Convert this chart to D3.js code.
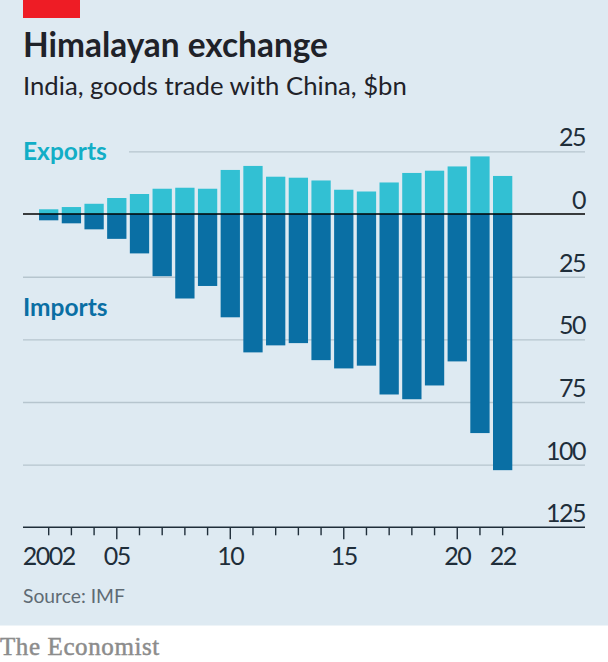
<!DOCTYPE html>
<html>
<head>
<meta charset="utf-8">
<script src="https://d3js.org/d3.v7.min.js"></script>
<style>
  html, body { margin: 0; padding: 0; background: #fff; }
  svg { display: block; }
  text { font-family: "Lato", sans-serif; }
</style>
</head>
<body>
<div class="chart"></div>
<script>
const years = d3.range(2002, 2023);
const exportsBn = [1.9, 2.8, 4.1, 6.4, 8, 10.1, 10.5, 10.1, 17.6, 19.2, 14.9, 14.5, 13.4, 9.7, 9, 12.6, 16.4, 17.3, 19, 23, 15.2];
const importsBn = [2.5, 3.7, 6.1, 9.9, 15.7, 24.8, 33.7, 28.7, 41.2, 55.2, 52.4, 51.5, 58.3, 61.6, 60.5, 72, 73.9, 68.4, 58.8, 87.4, 102.2];
const yTicks = [25, 0, -25, -50, -75, -100, -125];
const majorYears = [2005, 2010, 2015, 2020];
const xLabels = {2002: "2002", 2005: "05", 2010: "10", 2015: "15", 2020: "20", 2022: "22"};

const width = 608, height = 662;
const left = 23, right = 585;

const svg = d3.select(".chart").append("svg")
    .attr("width", width)
    .attr("height", height);

// panel, everything below it is the white strip with the logo
svg.append("rect")
    .attr("width", width)
    .attr("height", 625.5)
    .attr("fill", "#deeaf2");

svg.append("rect")
    .attr("x", left)
    .attr("width", 57)
    .attr("height", 18)
    .attr("fill", "#ee1c25");

const xScale = d3.scaleBand()
    .domain(years)
    .range([37.35, 514])
    .paddingInner(0.15)
    .paddingOuter(0.075);

const yScale = d3.scaleLinear()
    .domain([25, -125])
    .range([151.4, 527.3]);

// gridlines and value labels
const yAxis = d3.axisLeft(yScale)
    .tickValues(yTicks)
    .tickSize(right - left)
    .tickFormat(d => Math.abs(d));

const yAxisDisplay = svg.append("g")
    .attr("transform", `translate(${right},0)`)
    .call(yAxis);

yAxisDisplay.select(".domain").remove();
yAxisDisplay.selectAll(".tick line")
    .attr("stroke", "#b6c5ce")
    .attr("stroke-width", 1.4)
    .attr("x2", d => d === 25 ? 129 - right : left - right)
    .style("display", d => (d === 0 || d === -125) ? "none" : null);
yAxisDisplay.selectAll(".tick text")
    .attr("x", 0)
    .attr("dy", -5.5)
    .attr("text-anchor", "end")
    .attr("font-size", 25)
    .attr("letter-spacing", -1.5)
    .attr("font-family", "Lato, sans-serif")
    .attr("fill", "#1f2e3a");

svg.selectAll("rect.exports")
    .data(years)
    .enter()
    .append("rect")
    .attr("class", "exports")
    .attr("x", d => xScale(d))
    .attr("width", xScale.bandwidth())
    .attr("y", (d, i) => yScale(exportsBn[i]))
    .attr("height", (d, i) => yScale(0) - yScale(exportsBn[i]))
    .attr("fill", "#32c0d3");

svg.selectAll("rect.imports")
    .data(years)
    .enter()
    .append("rect")
    .attr("class", "imports")
    .attr("x", d => xScale(d))
    .attr("width", xScale.bandwidth())
    .attr("y", yScale(0))
    .attr("height", (d, i) => yScale(-importsBn[i]) - yScale(0))
    .attr("fill", "#0a6fa4");

// zero line and bottom baseline
svg.selectAll("line.base")
    .data([0, -125])
    .enter()
    .append("line")
    .attr("class", "base")
    .attr("x1", left)
    .attr("x2", right)
    .attr("y1", d => yScale(d))
    .attr("y2", d => yScale(d))
    .attr("stroke", d => d === 0 ? "#000" : "#1f2e3a")
    .attr("stroke-width", 1.6);

const xAxis = d3.axisBottom(xScale)
    .tickValues(years)
    .tickSize(8)
    .tickFormat(d => xLabels[d] || "");

const xAxisDisplay = svg.append("g")
    .attr("transform", `translate(0,${yScale(-125)})`)
    .call(xAxis);

xAxisDisplay.select(".domain").remove();
xAxisDisplay.selectAll(".tick line")
    .attr("stroke", "#1f2e3a")
    .attr("stroke-width", 1.4)
    .attr("y2", d => majorYears.includes(d) ? 12 : 8);
xAxisDisplay.selectAll(".tick text")
    .attr("y", 38)
    .attr("dy", 0)
    .attr("font-size", 25)
    .attr("letter-spacing", -1.5)
    .attr("font-family", "Lato, sans-serif")
    .attr("fill", "#1f2e3a");

svg.append("text")
    .text("Himalayan exchange")
    .attr("x", left)
    .attr("y", 57)
    .attr("font-size", 33.4)
    .attr("font-weight", 700)
    .attr("fill", "#1f2229");

svg.append("text")
    .text("India, goods trade with China, $bn")
    .attr("x", left)
    .attr("y", 95)
    .attr("font-size", 25.7)
    .attr("fill", "#1f2229");

svg.append("text")
    .text("Exports")
    .attr("x", left)
    .attr("y", 160)
    .attr("font-size", 24.5)
    .attr("font-weight", 700)
    .attr("fill", "#12aec6");

svg.append("text")
    .text("Imports")
    .attr("x", left)
    .attr("y", 316)
    .attr("font-size", 24.5)
    .attr("font-weight", 700)
    .attr("fill", "#0a6fa4");

svg.append("text")
    .text("Source: IMF")
    .attr("x", left)
    .attr("y", 603)
    .attr("font-size", 19.3)
    .attr("fill", "#5f6b74");

svg.append("text")
    .text("The Economist")
    .attr("x", 0)
    .attr("y", 655)
    .attr("font-size", 25)
    .attr("letter-spacing", 0.6)
    .style("font-family", "'Liberation Serif', serif")
    .attr("stroke", "#8c8c8c")
    .attr("stroke-width", 0.5)
    .attr("fill", "#8c8c8c");
</script>
</body>
</html>
